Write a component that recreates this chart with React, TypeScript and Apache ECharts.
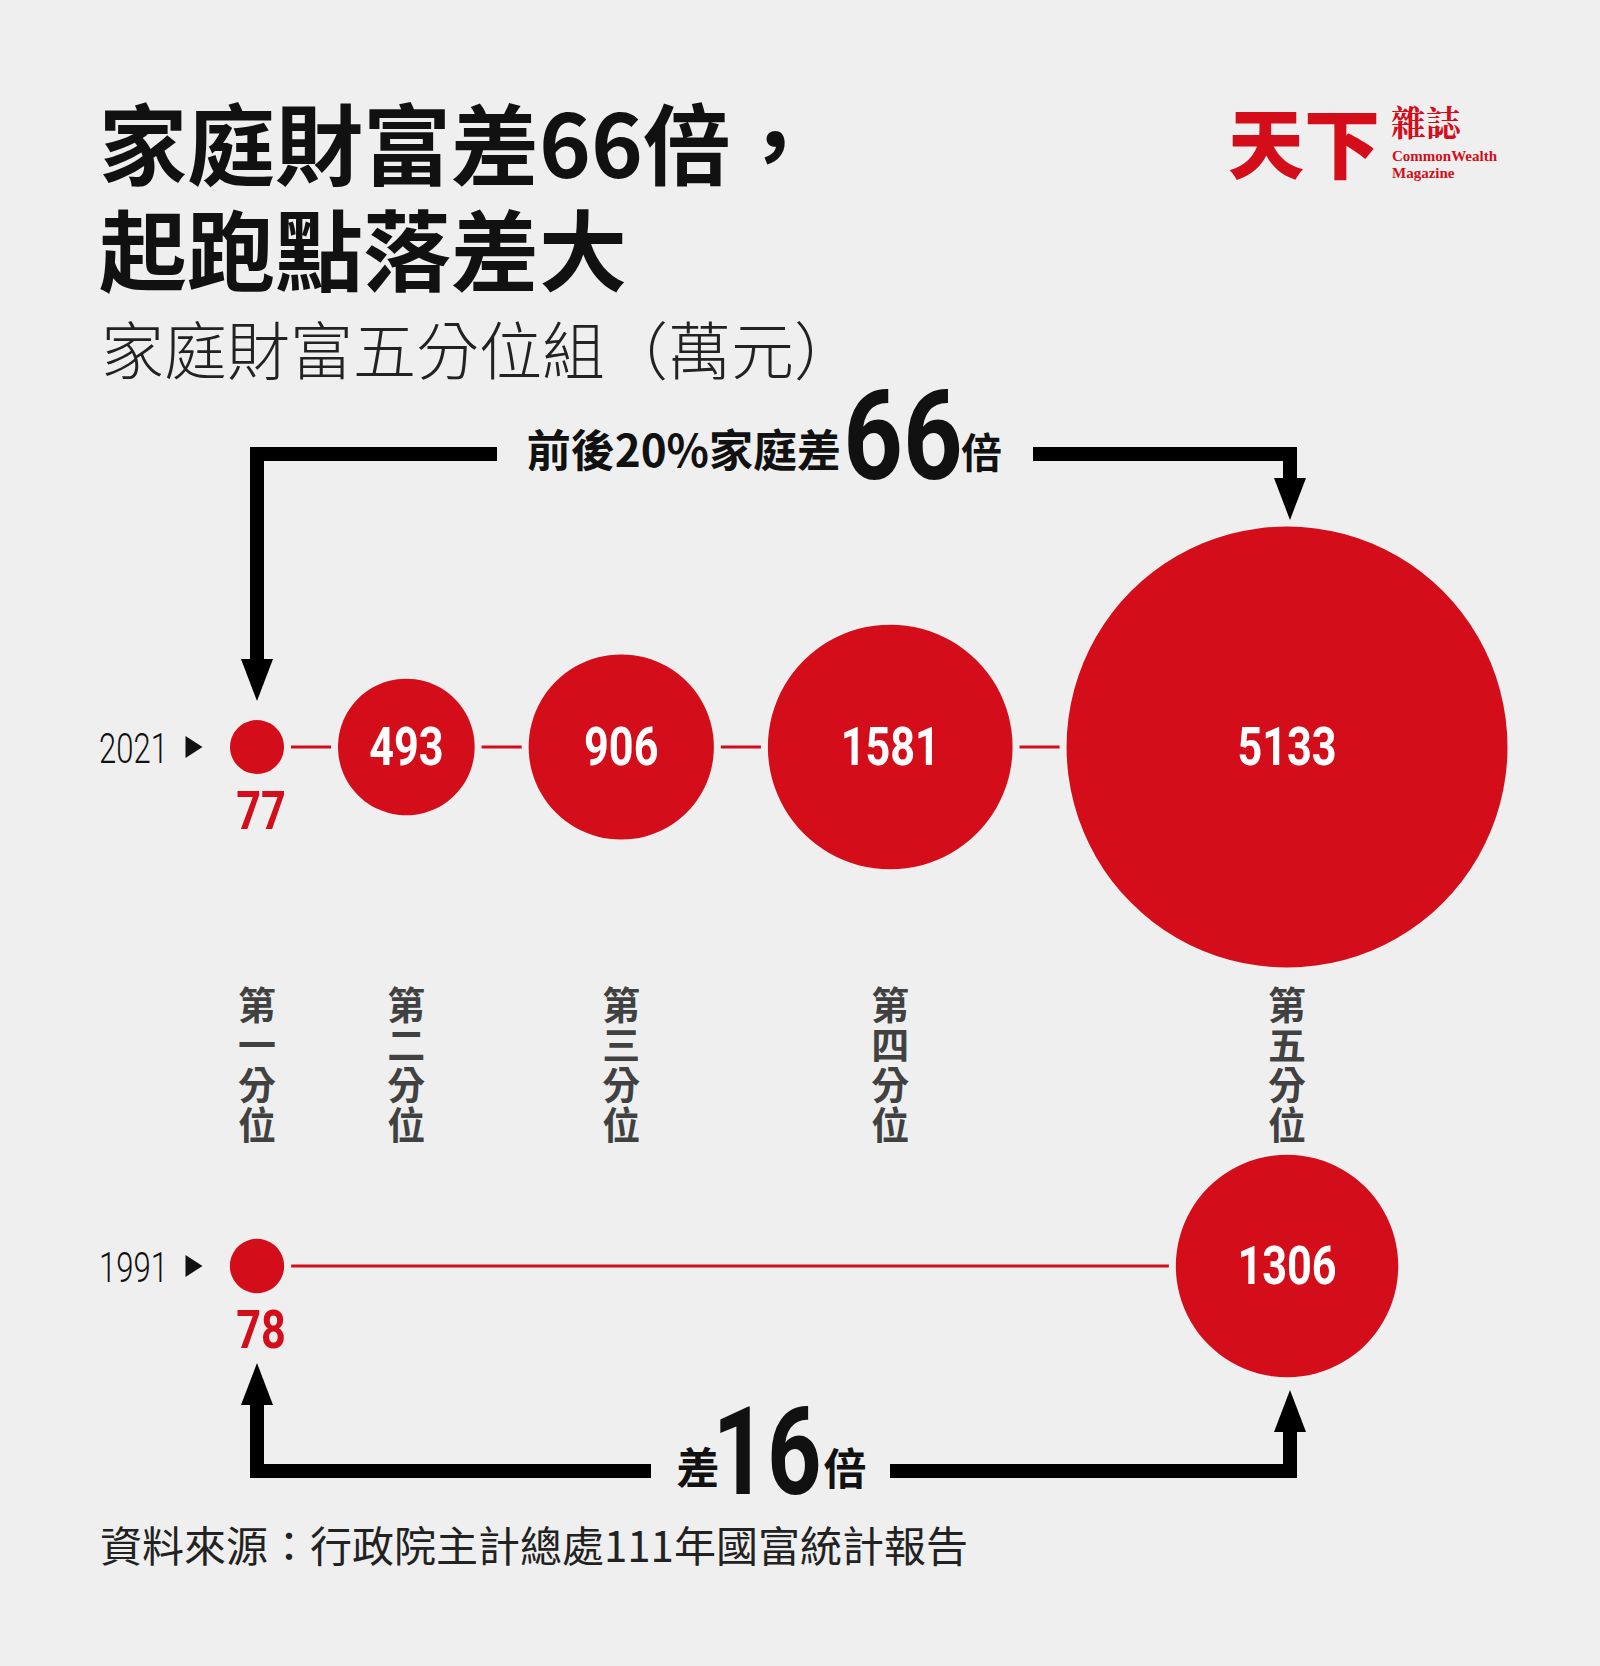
import React, { useEffect, useRef } from "react";
import * as echarts from "echarts";

// ---------- data ----------
const quintiles = ["第一分位", "第二分位", "第三分位", "第四分位", "第五分位"];
const years = ["2021", "1991"];
const wealth2021 = [77, 493, 906, 1581, 5133]; // 萬元, by quintile
const wealth1991 = [78, 1306]; // 萬元
const quintileIndex1991 = [0, 4]; // which quintiles the 1991 values belong to

const titleLine1 = "家庭財富差66倍，";
const titleLine2 = "起跑點落差大";
const subtitle = "家庭財富五分位組（萬元）";
const topNote = ["前後20%家庭差", "66", "倍"];
const bottomNote = ["差", "16", "倍"];
const source = "資料來源：行政院主計總處111年國富統計報告";

// ---------- layout / style ----------
const W = 1600;
const H = 1666;
const BG = "#efefef";
const RED = "#d30d1a";
const INK = "#111111";
const CJK = '"Noto Sans CJK TC", "Noto Sans CJK SC", sans-serif';
const DIGIT = 'Roboto, "Liberation Sans", sans-serif';
const SERIF = '"Liberation Serif", "DejaVu Serif", serif';
const K = 3.077; // px of radius per sqrt(萬元)
const GAP = 54; // px between neighbouring circles
const X0 = 257; // centre of first circle
const ROW_Y = [747, 1266]; // rows for 2021 and 1991
const LABEL_Y = 1062;
const RING = 7;
const YEAR_MARK_X = 194;

const radius = (v: number) => K * Math.sqrt(v);

function centres(): number[] {
  const out: number[] = [];
  let x = X0;
  wealth2021.forEach((v, i) => {
    if (i > 0) x += radius(wealth2021[i - 1]) + GAP + radius(v);
    out.push(x);
  });
  return out;
}

export default function App() {
  const ref = useRef<HTMLDivElement>(null);

  useEffect(() => {
    if (!ref.current) return;
    const chart = echarts.init(ref.current, undefined, { renderer: "svg" });
    const cx = centres();

    const bubbles2021 = wealth2021.map((v, i) => [cx[i], ROW_Y[0], v]);
    const bubbles1991 = wealth1991.map((v, j) => [cx[quintileIndex1991[j]], ROW_Y[1], v]);

    const arrowLine = (points: number[][]) => ({
      type: "polyline",
      z: 10,
      shape: { points },
      style: { stroke: "#000", lineWidth: 14, fill: null, lineJoin: "miter" },
      silent: true,
    });
    const head = (x: number, baseY: number, tipY: number) => ({
      type: "polygon",
      z: 10,
      shape: { points: [[x - 16, baseY], [x + 16, baseY], [x, tipY]] },
      style: { fill: "#000" },
      silent: true,
    });
    const txt = (
      text: string,
      x: number,
      y: number,
      font: string,
      fill: string,
      align: string = "left",
      scaleX: number = 1
    ) => ({
      type: "text",
      x,
      y,
      scaleX,
      z: 10,
      silent: true,
      style: { text, font, fill, textAlign: align, textVerticalAlign: "middle" },
    });

    const LX = cx[0];
    const RX = 1290;

    chart.setOption({
      animation: false,
      backgroundColor: BG,
      grid: { left: 0, top: 0, width: W, height: H },
      xAxis: { type: "value", min: 0, max: W, show: false },
      yAxis: { type: "value", min: 0, max: H, inverse: true, show: false },
      series: [
        {
          type: "line",
          z: 1,
          silent: true,
          symbol: "none",
          lineStyle: { color: RED, width: 3 },
          data: bubbles2021.map((d) => [d[0], d[1]]),
        },
        {
          type: "line",
          z: 1,
          silent: true,
          symbol: "none",
          lineStyle: { color: RED, width: 3 },
          data: bubbles1991.map((d) => [d[0], d[1]]),
        },
        {
          type: "custom",
          z: 3,
          silent: true,
          coordinateSystem: "cartesian2d",
          data: [...bubbles2021, ...bubbles1991],
          renderItem: (_params: any, api: any) => {
            const p = api.coord([api.value(0), api.value(1)]);
            const v = api.value(2);
            const r = radius(v);
            const small = v < 100;
            return {
              type: "group",
              children: [
                { type: "circle", shape: { cx: p[0], cy: p[1], r: r + RING }, style: { fill: BG } },
                { type: "circle", shape: { cx: p[0], cy: p[1], r }, style: { fill: RED } },
                {
                  type: "text",
                  x: small ? p[0] + 4 : p[0],
                  y: small ? p[1] + r + 37 : p[1],
                  scaleX: 0.8,
                  style: {
                    text: String(v),
                    fill: small ? RED : "#ffffff",
                    font: `bold 54px ${DIGIT}`,
                    textAlign: "center",
                    textVerticalAlign: "middle",
                  },
                },
              ],
            };
          },
        },
        {
          type: "scatter",
          z: 3,
          silent: true,
          symbolSize: 0,
          label: {
            show: true,
            position: "inside",
            color: INK,
            fontFamily: CJK,
            fontWeight: "bold",
            fontSize: 38,
            lineHeight: 40,
            formatter: (p: any) => quintiles[p.dataIndex].split("").join("\n"),
          },
          data: cx.map((x) => [x, LABEL_Y]),
        },
        {
          type: "custom",
          z: 3,
          silent: true,
          coordinateSystem: "cartesian2d",
          data: ROW_Y.map((y) => [YEAR_MARK_X, y]),
          renderItem: (params: any, api: any) => {
            const p = api.coord([api.value(0), api.value(1)]);
            return {
              type: "group",
              children: [
                {
                  type: "polygon",
                  shape: {
                    points: [
                      [p[0] - 8.5, p[1] - 11],
                      [p[0] + 8.5, p[1]],
                      [p[0] - 8.5, p[1] + 11],
                    ],
                  },
                  style: { fill: INK },
                },
                {
                  type: "text",
                  x: p[0] - 26,
                  y: p[1] + 2,
                  scaleX: 0.74,
                  style: {
                    text: years[params.dataIndex],
                    fill: INK,
                    font: `300 42px ${DIGIT}`,
                    textAlign: "right",
                    textVerticalAlign: "middle",
                  },
                },
              ],
            };
          },
        },
      ],
      graphic: [
        // title block
        txt(titleLine1, 99, 139, `bold 88px ${CJK}`, INK),
        txt(titleLine2, 99, 245, `bold 88px ${CJK}`, INK),
        txt(subtitle, 101, 346, `300 63px ${CJK}`, "#222222"),
        // logo
        txt("天下", 1228, 140, `900 76px ${CJK}`, RED),
        txt("雜誌", 1391, 121, `bold 35px "Noto Serif CJK TC", ${CJK}`, RED),
        txt("CommonWealth", 1392, 156, `bold 15px ${SERIF}`, RED),
        txt("Magazine", 1392, 173, `bold 15px ${SERIF}`, RED),
        // top bracket arrow
        arrowLine([[497, 454], [LX, 454], [LX, 662]]),
        head(LX, 659, 701),
        arrowLine([[1033, 454], [RX, 454], [RX, 481]]),
        head(RX, 478, 520),
        txt(topNote[0], 841, 448, `bold 44px ${CJK}`, INK, "right"),
        txt(topNote[1], 903, 437, `bold 124px ${DIGIT}`, INK, "center", 0.84),
        txt(topNote[2], 961, 450, `bold 41px ${CJK}`, INK, "left"),
        // bottom bracket arrow
        arrowLine([[651, 1471], [LX, 1471], [LX, 1403]]),
        head(LX, 1405, 1363),
        arrowLine([[890, 1471], [RX, 1471], [RX, 1430]]),
        head(RX, 1432, 1390),
        txt(bottomNote[0], 698, 1465, `bold 43px ${CJK}`, INK, "center"),
        txt(bottomNote[1], 767, 1453, `bold 122px ${DIGIT}`, INK, "center", 0.78),
        txt(bottomNote[2], 845, 1466, `bold 43px ${CJK}`, INK, "center"),
        // source
        txt(source, 100, 1543, `42px ${CJK}`, "#222222"),
      ],
    });

    return () => chart.dispose();
  }, []);

  return (
    <div
      ref={ref}
      style={{ position: "fixed", left: 0, top: 0, width: W, height: H, background: BG }}
    />
  );
}
